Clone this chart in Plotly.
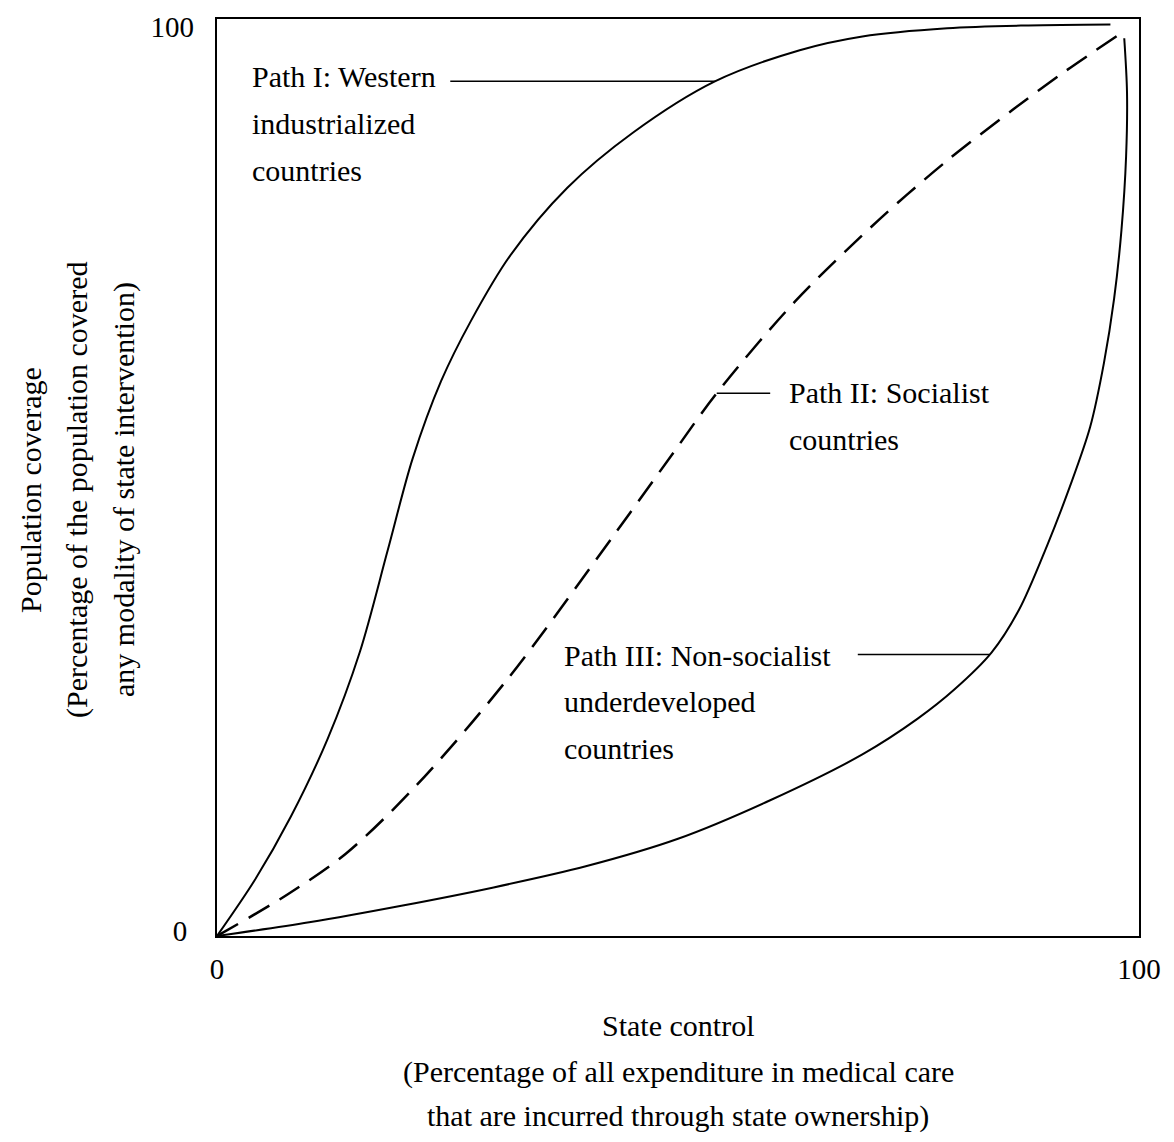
import plotly.graph_objects as go

# ---- data (x: state control %, y: population coverage %)
path1_x = [0, 4.1, 8.0, 12.0, 15.5, 18.5, 21.2, 24.3, 27.5, 31.8, 38.0, 45.1, 54.0, 63.2, 70.0, 79.2, 88.0, 96.9]
path1_y = [0, 6.1, 13.0, 21.5, 31.0, 42.0, 52.0, 60.5, 67.0, 74.2, 81.6, 87.6, 93.2, 96.6, 98.1, 99.0, 99.3, 99.4]

path2_x = [0, 7.6, 14.0, 21.7, 31.5, 43.4, 49.5, 54.2, 62.7, 71.9, 79.0, 86.3, 92.0, 97.7]
path2_y = [0, 4.5, 9.0, 16.5, 28.0, 44.2, 52.7, 59.2, 69.2, 78.2, 84.4, 90.1, 94.3, 98.2]

path3_x = [0, 10, 20, 30, 40, 50, 60, 70, 76, 80, 84, 87, 90, 92.5, 94.7,
           96.2, 97.3, 98.1, 98.6, 98.7, 98.4]
path3_y = [0, 1.5, 3.3, 5.3, 7.6, 10.6, 14.8, 19.8, 23.7, 26.9, 30.9, 35.6, 42.5, 49.0, 55.5,
           62.5, 69.5, 77.0, 85.0, 92.0, 97.9]

x_tick_vals = [0, 100]
x_tick_text = ["0", "100"]
y_tick_low = [0]
y_tick_low_text = ["0"]
y_tick_high = [100]
y_tick_high_text = ["100"]

path1_label = ["Path I: Western", "industrialized", "countries"]
path2_label = ["Path II: Socialist", "countries"]
path3_label = ["Path III: Non-socialist", "underdeveloped", "countries"]

x_title = ["State control", "(Percentage of all expenditure in medical care",
           "that are incurred through state ownership)"]
y_title = ["Population coverage", "(Percentage of the population covered",
           "any modality of state intervention)"]

FONT = "Liberation Serif, Times New Roman, serif"
FS = 30
FS_TICK = 29

fig = go.Figure()
fig.add_trace(go.Scatter(x=path1_x, y=path1_y, mode="lines", yaxis="y2",
                         line=dict(color="black", width=2, shape="spline", smoothing=0.9),
                         name="Path I", hoverinfo="skip"))
fig.add_trace(go.Scatter(x=path2_x, y=path2_y, mode="lines",
                         line=dict(color="black", width=2.5, dash="24px,12px",
                                   shape="spline", smoothing=0.9),
                         name="Path II", hoverinfo="skip"))
fig.add_trace(go.Scatter(x=path3_x, y=path3_y, mode="lines",
                         line=dict(color="black", width=2, shape="spline", smoothing=0.9),
                         name="Path III", hoverinfo="skip"))

annotations = []

def add_lines(lines, x, y0, dy, xanchor="left"):
    for i, t in enumerate(lines):
        annotations.append(dict(x=x, y=y0 - i * dy, xref="x", yref="y", text=t,
                                showarrow=False, xanchor=xanchor, yanchor="middle",
                                font=dict(family=FONT, size=FS, color="black")))

add_lines(path1_label, 3.6, 93.7, 5.1)
add_lines(path2_label, 61.8, 59.3, 5.2)
add_lines(path3_label, 37.4, 30.6, 5.05)

# leader lines (from label to point on curve)
shapes = [
    dict(type="line", xref="x", yref="y", x0=25.3, y0=path1_y[12], x1=path1_x[12], y1=path1_y[12],
         line=dict(color="black", width=1.5)),
    dict(type="line", xref="x", yref="y", x0=path2_x[7], y0=path2_y[7], x1=60.0, y1=path2_y[7],
         line=dict(color="black", width=1.5)),
    dict(type="line", xref="x", yref="y", x0=69.5, y0=30.7, x1=83.8, y1=30.7,
         line=dict(color="black", width=1.5)),
]

# page has an 8px body margin; compensate so the plot box lands where the reference has it
OFF = 8
PAGE_W, PAGE_H = 1174, 1142
BOX_L, BOX_R, BOX_T, BOX_B = 217, 1139, 19, 936
W, H = PAGE_W - 2 * OFF, PAGE_H - 2 * OFF
L, T = BOX_L - OFF, BOX_T - OFF
R, B = PAGE_W - OFF - BOX_R, PAGE_H - OFF - BOX_B

def px(x):
    return (x - BOX_L) / (BOX_R - BOX_L)

def py(y):
    return (BOX_B - y) / (BOX_B - BOX_T)

for t, yy in zip(x_title, [1025, 1072, 1116]):
    annotations.append(dict(x=px(678), y=py(yy), xref="paper", yref="paper", text=t,
                            showarrow=False, xanchor="center", yanchor="middle",
                            font=dict(family=FONT, size=FS, color="black")))
for t, xx in zip(y_title, [30, 77, 124]):
    annotations.append(dict(x=px(xx), y=py(490), xref="paper", yref="paper", text=t,
                            showarrow=False, xanchor="center", yanchor="middle", textangle=-90,
                            font=dict(family=FONT, size=FS, color="black")))

axis_common = dict(range=[0, 100], showgrid=False, zeroline=False,
                   linecolor="black", linewidth=2, ticks="", automargin=False,
                   ticklabeloverflow="allow",
                   tickfont=dict(family=FONT, size=FS_TICK, color="black"))

fig.update_layout(
    width=W, height=H,
    margin=dict(l=L, r=R, t=T, b=B, autoexpand=False),
    paper_bgcolor="white", plot_bgcolor="white",
    showlegend=False,
    xaxis=dict(**axis_common, showline=True, mirror=True,
               tickvals=x_tick_vals, ticktext=x_tick_text, ticklabelstandoff=6),
    yaxis=dict(**axis_common, showline=True, mirror=True,
               tickvals=y_tick_low, ticktext=y_tick_low_text,
               ticklabelstandoff=22, ticklabelshift=-5),
    yaxis2=dict(**axis_common, showline=False, overlaying="y", side="left",
                tickvals=y_tick_high, ticktext=y_tick_high_text,
                ticklabelstandoff=22, ticklabelshift=8),
    annotations=annotations,
    shapes=shapes,
)

fig.write_html("out.html")
